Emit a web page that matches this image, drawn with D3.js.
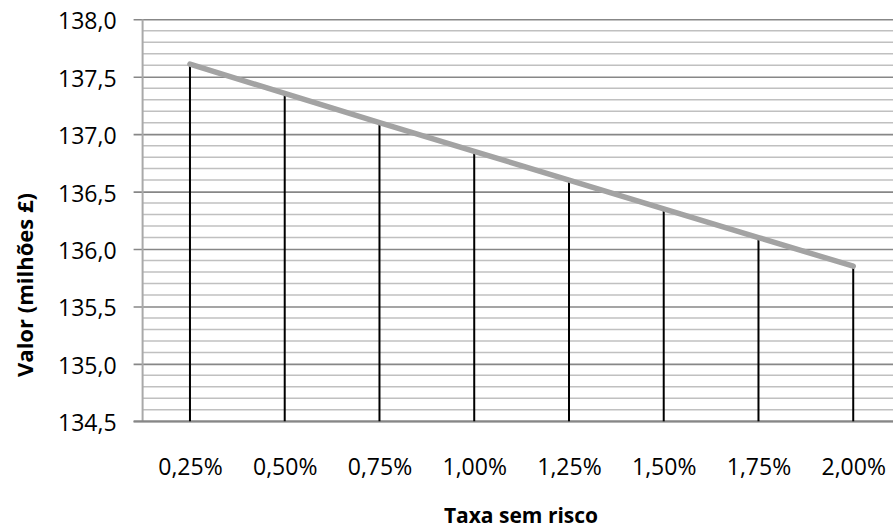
<!DOCTYPE html>
<html>
<head>
<meta charset="utf-8">
<script src="https://cdn.jsdelivr.net/npm/d3@7"></script>
<style>
  html, body { margin: 0; padding: 0; background: #fff; }
  svg { display: block; }
  text { font-family: "Open Sans", sans-serif; fill: #000; }
</style>
</head>
<body>
<svg id="chart" width="893" height="532"></svg>
<script>
// Risk-free rate scenarios and the resulting value (millions £)
const rates = ["0,25%", "0,50%", "0,75%", "1,00%", "1,25%", "1,50%", "1,75%", "2,00%"];
const values = [137.61, 137.355, 137.10, 136.85, 136.60, 136.35, 136.10, 135.85];
const yTicks = [134.5, 135.0, 135.5, 136.0, 136.5, 137.0, 137.5, 138.0];
const yMinorStep = 0.1;
const xTitle = "Taxa sem risco";
const yTitle = "Valor (milhões £)";

const svg = d3.select("#chart");
const plot = { left: 142.6, right: 900.6, top: 19.3, bottom: 421.3 };

const x = d3.scalePoint().domain(rates).range([plot.left, plot.right]).padding(0.5);
const y = d3.scaleLinear().domain([134.5, 138.0]).range([plot.bottom, plot.top]);

const fmt = d => d.toFixed(1).replace(".", ",");

// minor gridlines every 0.1
const minor = d3.range(134.5, 138.0001, yMinorStep)
  .map(v => Math.round(v * 10) / 10)
  .filter(v => !yTicks.some(t => Math.abs(t - v) < 1e-6));
svg.append("g").selectAll("line").data(minor).join("line")
  .attr("x1", plot.left).attr("x2", plot.right)
  .attr("y1", d => y(d)).attr("y2", d => y(d))
  .attr("stroke", "#c0c0c0").attr("stroke-width", 1.5);

// major gridlines with left tick marks
const yAxis = d3.axisLeft(y).tickValues(yTicks).tickFormat(fmt)
  .tickSizeInner(-(plot.right - plot.left)).tickSizeOuter(0).tickPadding(0);
const gy = svg.append("g").attr("transform", `translate(${plot.left},0)`).call(yAxis);
gy.select(".domain").remove();
gy.selectAll(".tick line")
  .attr("x1", -9).attr("x2", plot.right - plot.left)
  .attr("stroke", "#878787").attr("stroke-width", 1.6);
gy.selectAll(".tick text")
  .attr("x", -26).attr("dy", null).attr("y", 9.5)
  .attr("text-anchor", "end")
  .style("font-family", '"Open Sans", sans-serif')
  .style("font-size", "23px").attr("fill", "#000");

// vertical axis line
svg.append("line")
  .attr("x1", plot.left).attr("x2", plot.left).attr("y1", plot.top).attr("y2", plot.bottom)
  .attr("stroke", "#a9a9a9").attr("stroke-width", 2);

// horizontal axis
const xAxis = d3.axisBottom(x).tickSize(0).tickPadding(0);
const gx = svg.append("g").attr("transform", `translate(0,${plot.bottom})`).call(xAxis);
gx.select(".domain").remove();
gx.selectAll(".tick text")
  .attr("dy", null).attr("y", 475 - plot.bottom)
  .style("font-family", '"Open Sans", sans-serif')
  .style("font-size", "23px").attr("fill", "#000");
svg.append("line")
  .attr("x1", plot.left - 9).attr("x2", plot.right).attr("y1", plot.bottom).attr("y2", plot.bottom)
  .attr("stroke", "#878787").attr("stroke-width", 2);

// drop lines from each point to the axis
svg.append("g").selectAll("line").data(rates).join("line")
  .attr("x1", d => x(d)).attr("x2", d => x(d))
  .attr("y1", (d, i) => y(values[i])).attr("y2", plot.bottom)
  .attr("stroke", "#000").attr("stroke-width", 2);

// value line
const line = d3.line().x((d, i) => x(rates[i])).y(d => y(d));
svg.append("path").datum(values)
  .attr("d", line)
  .attr("fill", "none").attr("stroke", "#a3a3a3")
  .attr("stroke-width", 5.5).attr("stroke-linecap", "round");

// axis titles
svg.append("text")
  .attr("x", 521).attr("y", 523)
  .attr("text-anchor", "middle")
  .style("font-size", "21px").style("font-weight", "bold")
  .text(xTitle);
svg.append("text")
  .attr("transform", "translate(33,285) rotate(-90)")
  .attr("text-anchor", "middle")
  .style("font-size", "22px").style("font-weight", "bold")
  .text(yTitle);
</script>
</body>
</html>
